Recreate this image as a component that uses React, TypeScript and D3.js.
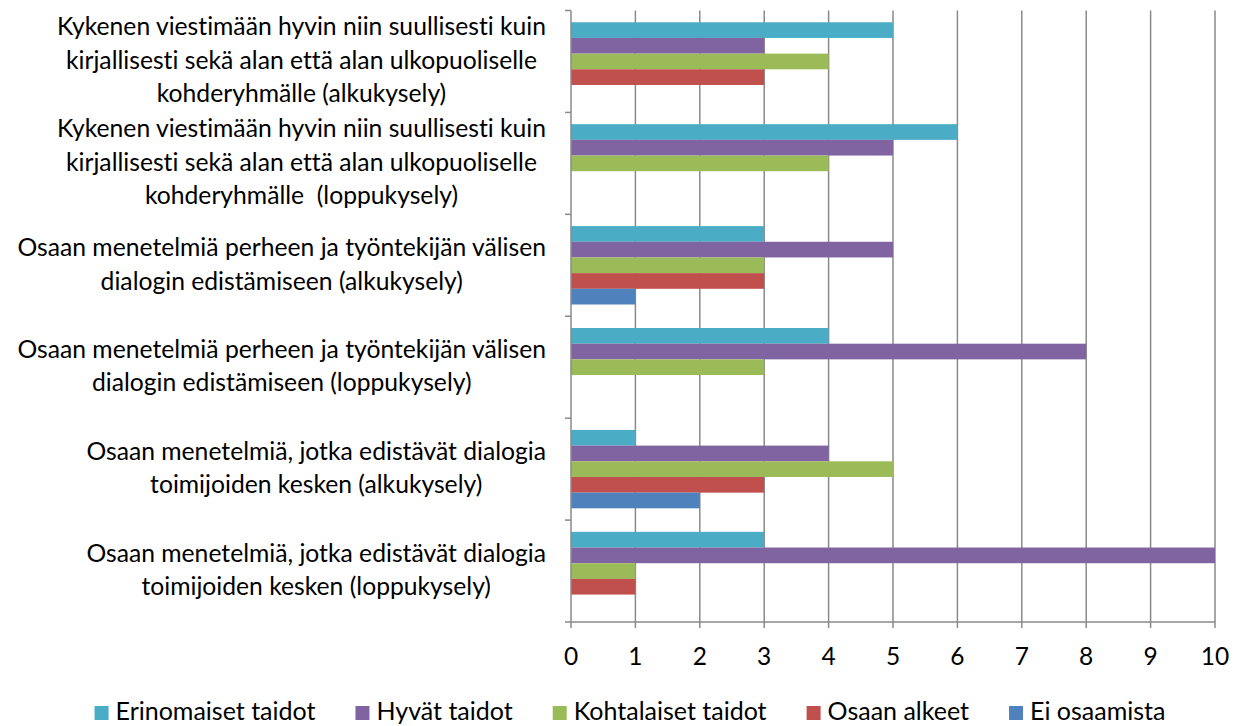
import React, { useEffect, useRef } from "react";
import * as d3 from "d3";

const categories: string[][] = [
  ["Kykenen viestimään hyvin niin suullisesti kuin", "kirjallisesti sekä alan että alan ulkopuoliselle", "kohderyhmälle (alkukysely)"],
  ["Kykenen viestimään hyvin niin suullisesti kuin", "kirjallisesti sekä alan että alan ulkopuoliselle", "kohderyhmälle  (loppukysely)"],
  ["Osaan menetelmiä perheen ja työntekijän välisen", "dialogin edistämiseen (alkukysely)"],
  ["Osaan menetelmiä perheen ja työntekijän välisen", "dialogin edistämiseen (loppukysely)"],
  ["Osaan menetelmiä, jotka edistävät dialogia", "toimijoiden kesken (alkukysely)"],
  ["Osaan menetelmiä, jotka edistävät dialogia", "toimijoiden kesken (loppukysely)"],
];

const seriesNames = ["Erinomaiset taidot", "Hyvät taidot", "Kohtalaiset taidot", "Osaan alkeet", "Ei osaamista"];
const seriesColors = ["#4BACC6", "#8064A2", "#9BBB59", "#C0504D", "#4F81BD"];

const erinomaiset = [5, 6, 3, 4, 1, 3];
const hyvat = [3, 5, 5, 8, 4, 10];
const kohtalaiset = [4, 4, 3, 3, 5, 1];
const alkeet = [3, 0, 3, 0, 3, 1];
const eiOsaamista = [0, 0, 1, 0, 2, 0];
const seriesValues = [erinomaiset, hyvat, kohtalaiset, alkeet, eiOsaamista];

const xTicks = [0, 1, 2, 3, 4, 5, 6, 7, 8, 9, 10];

const FONT = "Lato, 'Open Sans', sans-serif";

export default function App() {
  const ref = useRef<SVGSVGElement>(null);

  useEffect(() => {
    document.body.style.margin = "0";
    const svg = d3.select(ref.current);
    svg.selectAll("*").remove();
    svg.style("font-variant-ligatures", "none");

    const left = 571, right = 1215, top = 10.5, bottom = 622;
    const x = d3.scaleLinear().domain([0, 10]).range([left, right]);
    const y = d3.scaleBand<number>().domain(d3.range(categories.length)).range([top, bottom]).paddingInner(0).paddingOuter(0);
    const inner = d3.scaleBand<number>().domain(d3.range(seriesNames.length)).range([0, y.bandwidth()]).paddingOuter(0.75).paddingInner(0);

    const grid = "#8a8a8a";
    svg.append("g").selectAll("line").data(xTicks.slice(1)).join("line")
      .attr("x1", (d) => x(d)).attr("x2", (d) => x(d))
      .attr("y1", top).attr("y2", bottom + 6)
      .attr("stroke", grid).attr("stroke-width", 1.5);

    const g = svg.append("g");
    categories.forEach((_, ci) => {
      seriesValues.forEach((vals, si) => {
        const v = vals[ci];
        if (!v) return;
        g.append("rect")
          .attr("x", x(0))
          .attr("y", (y(ci) as number) + (inner(si) as number))
          .attr("width", x(v) - x(0))
          .attr("height", inner.bandwidth())
          .attr("fill", seriesColors[si]);
      });
    });

    svg.append("line").attr("x1", left).attr("x2", left).attr("y1", top).attr("y2", bottom + 6).attr("stroke", grid).attr("stroke-width", 1.5);
    svg.append("line").attr("x1", left).attr("x2", right).attr("y1", bottom).attr("y2", bottom).attr("stroke", grid).attr("stroke-width", 1.5);
    svg.append("g").selectAll("line").data(d3.range(categories.length + 1)).join("line")
      .attr("x1", left - 6).attr("x2", left)
      .attr("y1", (d) => top + d * y.step()).attr("y2", (d) => top + d * y.step())
      .attr("stroke", grid).attr("stroke-width", 1.5);

    svg.append("g").selectAll("text").data(xTicks).join("text")
      .attr("x", (d) => x(d)).attr("y", 665)
      .attr("text-anchor", "middle")
      .attr("font-family", FONT).attr("font-size", 24.5).attr("fill", "#000")
      .text((d) => String(d));

    const lineH = 33.5;
    const labelRight = 546;
    categories.forEach((lines, ci) => {
      const cy = (y(ci) as number) + y.bandwidth() / 2;
      const lg = svg.append("g");
      const texts = lines.map((ln, li) =>
        lg.append("text")
          .attr("y", cy + (li - (lines.length - 1) / 2) * lineH + 7.5)
          .attr("text-anchor", "middle")
          .attr("font-family", FONT).attr("font-size", 24.7).attr("fill", "#000")
          .style("white-space", "pre")
          .text(ln)
      );
      const maxW = d3.max(texts, (t) => (t.node() as SVGTextElement).getComputedTextLength()) || 0;
      texts.forEach((t) => t.attr("x", labelRight - maxW / 2));
    });

    const lgd = svg.append("g");
    const items = seriesNames.map((name, i) => {
      const it = lgd.append("g");
      it.append("rect").attr("x", 0).attr("y", 706).attr("width", 14).attr("height", 14).attr("fill", seriesColors[i]);
      const t = it.append("text").attr("x", 21).attr("y", 720)
        .attr("font-family", FONT).attr("font-size", 25).attr("fill", "#000").text(name);
      return { it, w: 21 + (t.node() as SVGTextElement).getComputedTextLength() };
    });
    const gap = 40;
    const total = d3.sum(items, (d) => d.w) + gap * (items.length - 1);
    let cx = 630 - total / 2;
    items.forEach((d) => {
      d.it.attr("transform", `translate(${cx},0)`);
      cx += d.w + gap;
    });
  }, []);

  return <svg ref={ref} width={1236} height={726} style={{ display: "block", background: "#fff" }} />;
}
